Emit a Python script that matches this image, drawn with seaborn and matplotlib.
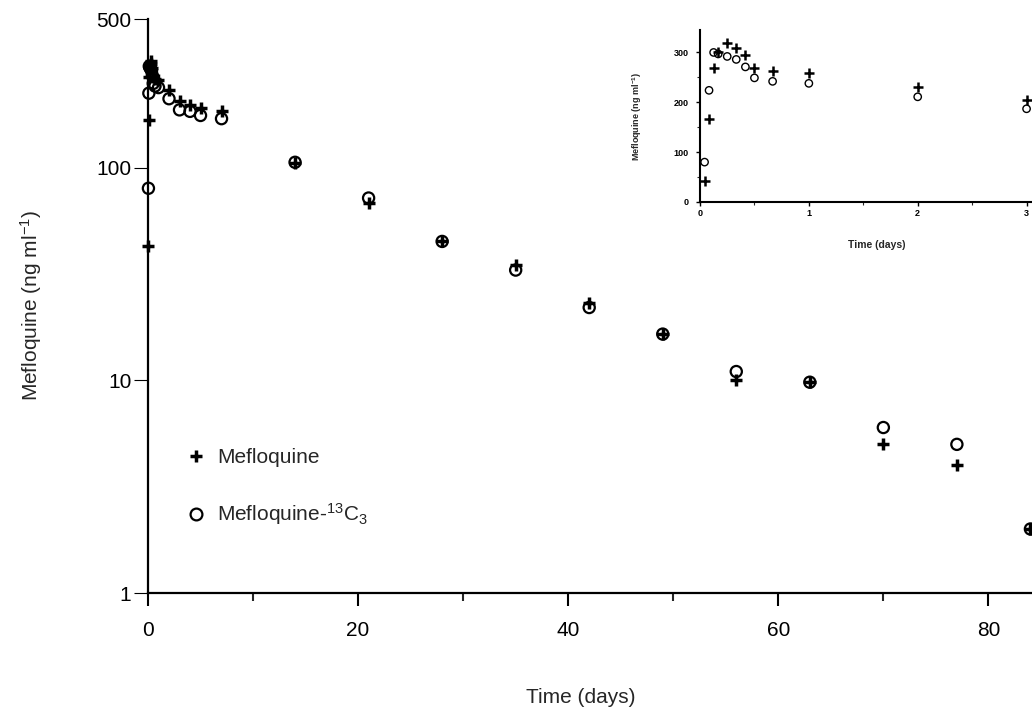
import numpy as np
import pandas as pd
import matplotlib
matplotlib.use("Agg")
import matplotlib.pyplot as plt
import seaborn as sns
from matplotlib.lines import Line2D
from matplotlib.ticker import FixedLocator, FixedFormatter, MultipleLocator, NullLocator

# ---- data ----
time_days = [0.042, 0.083, 0.125, 0.167, 0.25, 0.333, 0.417, 0.5, 0.667, 1, 2, 3,
             4, 5, 7, 14, 21, 28, 35, 42, 49, 56, 63, 70, 77, 84]
mefloquine = [43, 167, 268, 300, 318, 308, 294, 268, 262, 258, 231, 205,
              198, 190, 184, 105, 68, 45, 35, 23, 16.5, 10, 9.8, 5, 4, 2]
mefloquine_13c3 = [80, 224, 300, 297, 292, 286, 271, 249, 242, 238, 211, 187,
                   184, 176, 170, 106, 72, 45, 33, 22, 16.5, 11, 9.8, 6, 5, 2]
series_labels = ["Mefloquine", "Mefloquine-$^{13}$C$_3$"]
main_xticks = [0, 20, 40, 60, 80]
main_yticks = [1, 10, 100, 500]
inset_xticks = [0, 1, 2, 3]
inset_yticks = [0, 100, 200, 300]
inset_max_day = 3

sns.set_style("ticks")
plt.rcParams["font.family"] = ["Liberation Sans", "DejaVu Sans"]
plt.rcParams["mathtext.default"] = "regular"

df = pd.DataFrame({"time": time_days, "mef": mefloquine, "lab": mefloquine_13c3})

fig = plt.figure(figsize=(10.32, 7.13), dpi=100)
ax = fig.add_axes([0.1434, 0.1683, 0.8566, 0.8050])

sns.scatterplot(data=df, x="time", y="lab", marker="o", s=65, facecolor="none",
                edgecolor="black", linewidth=1.6, ax=ax, clip_on=False, zorder=3)
sns.scatterplot(data=df, x="time", y="mef", marker="+", s=85, color="black",
                linewidth=2.5, ax=ax, clip_on=False, zorder=4)

ax.set_yscale("log")
ax.set_ylim(1, 500)
ax.set_xlim(0, 84.15)
ax.yaxis.set_major_locator(FixedLocator(main_yticks))
ax.yaxis.set_major_formatter(FixedFormatter([str(v) for v in main_yticks]))
ax.yaxis.set_minor_locator(NullLocator())
ax.xaxis.set_major_locator(FixedLocator(main_xticks))
ax.xaxis.set_major_formatter(FixedFormatter([str(v) for v in main_xticks]))
ax.xaxis.set_minor_locator(MultipleLocator(10))

for side in ["top", "right"]:
    ax.spines[side].set_visible(False)
for side in ["left", "bottom"]:
    ax.spines[side].set_linewidth(1.6)
    ax.spines[side].set_color("black")

ax.tick_params(axis="x", which="major", length=9, width=1.5, direction="out",
               pad=11, labelsize=15, colors="black")
ax.tick_params(axis="x", which="minor", length=6, width=1.5, direction="out")
ax.tick_params(axis="y", which="major", length=10, width=0.8, direction="out",
               pad=2, labelsize=15, colors="black")

ax.set_ylabel("Mefloquine (ng ml$^{-1}$)", fontsize=15)
ax.yaxis.set_label_coords(-0.118, 0.5)
ax.set_xlabel("Time (days)", fontsize=15)
ax.xaxis.set_label_coords(0.49, -0.165)

handles = [
    Line2D([], [], linestyle="none", marker="+", markersize=9, markeredgewidth=2.5,
           color="black"),
    Line2D([], [], linestyle="none", marker="o", markersize=8.5, markeredgewidth=1.6,
           markerfacecolor="none", markeredgecolor="black"),
]
ax.legend(handles, series_labels, loc="upper left",
          bbox_to_anchor=(186 / 1032, 1 - 448 / 713), bbox_transform=fig.transFigure,
          frameon=False, fontsize=15, handlelength=1.0, handletextpad=0.5,
          labelspacing=1.65, borderpad=0, borderaxespad=0)

# ---- inset ----
ax_in = fig.add_axes([0.6783, 0.7167, 0.3217, 0.2412])
ax_in.set_facecolor("none")
dfi = df[df["time"] <= inset_max_day]
sns.scatterplot(data=dfi, x="time", y="lab", marker="o", s=28, facecolor="none",
                edgecolor="black", linewidth=1.0, ax=ax_in, clip_on=False, zorder=3)
sns.scatterplot(data=dfi, x="time", y="mef", marker="+", s=45, color="black",
                linewidth=1.8, ax=ax_in, clip_on=False, zorder=4)
ax_in.set_xlim(0, 3.05)
ax_in.set_ylim(0, 345)
ax_in.xaxis.set_major_locator(FixedLocator(inset_xticks))
ax_in.yaxis.set_major_locator(FixedLocator(inset_yticks))
ax_in.xaxis.set_minor_locator(MultipleLocator(0.5))
ax_in.yaxis.set_minor_locator(MultipleLocator(50))
for side in ["top", "right"]:
    ax_in.spines[side].set_visible(False)
for side in ["left", "bottom"]:
    ax_in.spines[side].set_linewidth(1.5)
    ax_in.spines[side].set_color("black")
ax_in.tick_params(axis="both", which="major", length=3, width=1.0, direction="out",
                  labelsize=6.5, colors="black")
ax_in.tick_params(axis="x", which="major", pad=2)
ax_in.tick_params(axis="y", which="major", pad=5)
ax_in.tick_params(axis="both", which="minor", length=2, width=0.8, direction="out")
for lab in ax_in.get_xticklabels() + ax_in.get_yticklabels():
    lab.set_fontweight("bold")
ax_in.set_xlabel("Time (days)", fontsize=7.5, fontweight="bold")
ax_in.xaxis.set_label_coords(0.533, -0.22)
ax_in.set_ylabel("Mefloquine (ng ml$^{-1}$)", fontsize=6.5, fontweight="bold")
ax_in.yaxis.set_label_coords(-0.17, 0.5)

fig.savefig("out.png", dpi=100, facecolor="white")
